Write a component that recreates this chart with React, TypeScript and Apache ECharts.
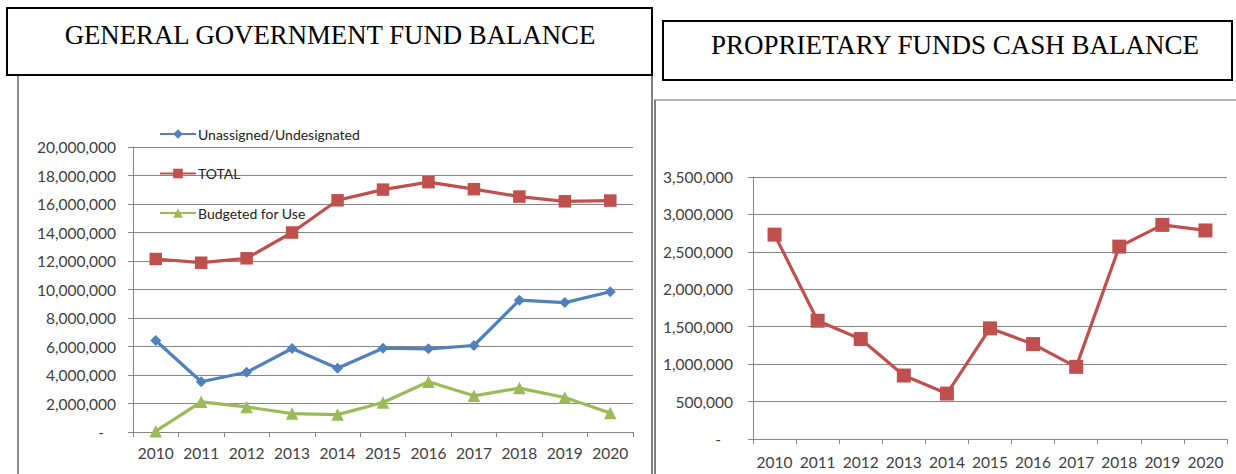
import React, { useEffect, useRef } from "react";
import * as echarts from "echarts";

const years = ["2010", "2011", "2012", "2013", "2014", "2015", "2016", "2017", "2018", "2019", "2020"];
const unassigned = [6420000, 3530000, 4190000, 5860000, 4470000, 5880000, 5840000, 6070000, 9250000, 9080000, 9840000];
const total = [12140000, 11880000, 12190000, 14000000, 16260000, 17010000, 17530000, 17040000, 16520000, 16190000, 16240000];
const budgeted = [60000, 2120000, 1760000, 1290000, 1220000, 2070000, 3530000, 2540000, 3080000, 2420000, 1340000];
const proprietary = [2730000, 1580000, 1335000, 848000, 607000, 1478000, 1268000, 964000, 2570000, 2860000, 2786000];

const leftTitle = "GENERAL GOVERNMENT FUND BALANCE";
const rightTitle = "PROPRIETARY FUNDS CASH BALANCE";

const BLUE = "#4F81BD";
const RED = "#C0504D";
const GREEN = "#9BBB59";
const GRID = "#868686";
const LABEL = "#404040";
const FONT = "Lato, 'Noto Sans', sans-serif";

const fmt = (v: number) => (v === 0 ? "-\u00a0\u00a0\u00a0" : v.toLocaleString("en-US"));

export default function App() {
  const ref = useRef<HTMLDivElement>(null);
  useEffect(() => {
    if (!ref.current) return;
    const chart = echarts.init(ref.current, undefined, { renderer: "svg" });
    const yAxisCommon = {
      type: "value" as const,
      axisLine: { show: true, lineStyle: { color: GRID, width: 1 } },
      axisTick: { show: true, length: 5, lineStyle: { color: GRID } },
      splitLine: { show: true, lineStyle: { color: GRID, width: 1 } },
      axisLabel: { formatter: fmt, color: LABEL, fontFamily: FONT, fontSize: 15.5 },
    };
    const xAxisCommon = {
      type: "category" as const,
      data: years,
      boundaryGap: true,
      axisLine: { show: true, lineStyle: { color: GRID, width: 1 } },
      axisTick: { show: true, length: 5, alignWithLabel: false, lineStyle: { color: GRID } },
      axisLabel: { color: LABEL, fontFamily: FONT, fontSize: 15.5, interval: 0 },
    };
    chart.setOption({
      animation: false,
      backgroundColor: "#ffffff",
      graphic: [
        { type: "line", shape: { x1: 18, y1: 75, x2: 18, y2: 474 }, style: { stroke: "#8a8a8a", lineWidth: 2 } },
        { type: "line", shape: { x1: 652, y1: 75, x2: 652, y2: 474 }, style: { stroke: "#7f7f7f", lineWidth: 2 } },
        { type: "line", shape: { x1: 654, y1: 100, x2: 1236, y2: 100 }, style: { stroke: "#9a9a9a", lineWidth: 1.5 } },
        { type: "line", shape: { x1: 655, y1: 100, x2: 655, y2: 474 }, style: { stroke: "#7f7f7f", lineWidth: 2 } },
        { type: "rect", shape: { x: 7, y: 8, width: 645, height: 67 }, style: { fill: "#fff", stroke: "#000", lineWidth: 2 } },
        { type: "rect", shape: { x: 663, y: 21, width: 569, height: 59 }, style: { fill: "#fff", stroke: "#000", lineWidth: 2 } },
        {
          type: "text", x: 330, y: 35,
          style: { text: leftTitle, fill: "#000", font: "26.8px 'Liberation Serif', serif", textAlign: "center", textVerticalAlign: "middle" },
        },
        {
          type: "text", x: 955, y: 45,
          style: { text: rightTitle, fill: "#000", font: "27px 'Liberation Serif', serif", textAlign: "center", textVerticalAlign: "middle" },
        },
      ],
      legend: {
        orient: "vertical",
        left: 159,
        top: 127,
        padding: 0,
        itemWidth: 36,
        itemHeight: 12,
        itemGap: 25.5,
        textStyle: { color: "#222", fontFamily: FONT, fontSize: 14, padding: [0, 0, 0, -3] },
        data: ["Unassigned/Undesignated", "TOTAL", "Budgeted for Use"],
      },
      grid: [
        { left: 133, right: 603, top: 147, bottom: 42 },
        { left: 753, right: 9, top: 177, bottom: 35 },
      ],
      xAxis: [
        { ...xAxisCommon, gridIndex: 0, axisLabel: { ...xAxisCommon.axisLabel, margin: 13 } },
        { ...xAxisCommon, gridIndex: 1, axisLabel: { ...xAxisCommon.axisLabel, margin: 15 } },
      ],
      yAxis: [
        { ...yAxisCommon, gridIndex: 0, min: 0, max: 20000000, interval: 2000000, axisLabel: { ...yAxisCommon.axisLabel, margin: 17 } },
        { ...yAxisCommon, gridIndex: 1, min: 0, max: 3500000, interval: 500000, axisLabel: { ...yAxisCommon.axisLabel, margin: 20 } },
      ],
      series: [
        {
          name: "Unassigned/Undesignated", type: "line", xAxisIndex: 0, yAxisIndex: 0, data: unassigned,
          symbol: "diamond", symbolSize: 11, itemStyle: { color: BLUE }, lineStyle: { color: BLUE, width: 3.2 },
        },
        {
          name: "TOTAL", type: "line", xAxisIndex: 0, yAxisIndex: 0, data: total,
          symbol: "rect", symbolSize: 12.5, itemStyle: { color: RED }, lineStyle: { color: RED, width: 3.2 },
        },
        {
          name: "Budgeted for Use", type: "line", xAxisIndex: 0, yAxisIndex: 0, data: budgeted,
          symbol: "triangle", symbolSize: 12.5, itemStyle: { color: GREEN }, lineStyle: { color: GREEN, width: 3.2 },
        },
        {
          name: "Proprietary", type: "line", xAxisIndex: 1, yAxisIndex: 1, data: proprietary,
          symbol: "rect", symbolSize: 14, itemStyle: { color: RED }, lineStyle: { color: RED, width: 3.2 },
        },
      ],
    });
    return () => chart.dispose();
  }, []);
  return <div ref={ref} style={{ position: "absolute", left: 0, top: 0, width: 1236, height: 474 }} />;
}
